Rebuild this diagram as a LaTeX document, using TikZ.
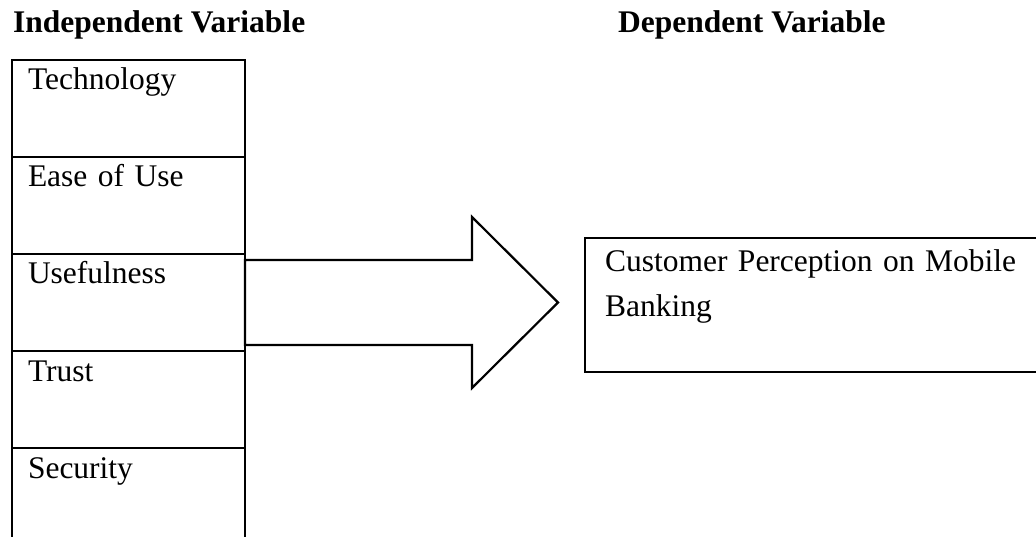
\documentclass[tikz,border=0pt]{standalone}
\usepackage{fontspec}
\setmainfont{Liberation Serif}
\usetikzlibrary{positioning,calc}

\begin{document}
\begin{tikzpicture}[x=1pt,y=-1pt,
  varbox/.style={draw,line width=2.2pt,outer sep=0pt,anchor=north west,inner xsep=16pt,inner ysep=8pt,text width=201pt,align=left,text height=22pt,text depth=59pt,font=\fontsize{31.5}{45}\selectfont},
  dvbox/.style={draw,line width=2.2pt,outer sep=0pt,anchor=north west,inner xsep=20pt,inner ysep=8pt,text width=430pt,align=left,text height=26pt,text depth=92pt,font=\fontsize{31.5}{45}\selectfont},
  title/.style={inner sep=0pt,anchor=base west,font=\fontsize{31.5}{38}\selectfont\bfseries},
  bigarrow/.style={line width=2.2pt,fill=white}
]
  \useasboundingbox (0,0) rectangle (1036,537);

  % Headings
  \node[title] (indep) at (13,33) {Independent Variable};
  \node[title] (dep) at (618,33) {Dependent Variable};

  % Independent variables
  \node[varbox] (tech) at (12,60) {Technology};
  \node[varbox,below=0pt of tech] (ease) {Ease of Use};
  \node[varbox,below=0pt of ease] (use) {Usefulness};
  \node[varbox,below=0pt of use] (trust) {Trust};
  \node[varbox,below=0pt of trust] (sec) {Security};

  % Dependent variable
  \node[dvbox] (dv) at (585,238) {Customer Perception on Mobile\\Banking};

  % Block arrow
  \draw[bigarrow] ($(use.east)+(0,-42.5)$) -- ++(227,0) -- ++(0,-43) -- ++(86,85.5)
    -- ++(-86,85.5) -- ++(0,-43) -- ++(-227,0) -- cycle;
\end{tikzpicture}
\end{document}
